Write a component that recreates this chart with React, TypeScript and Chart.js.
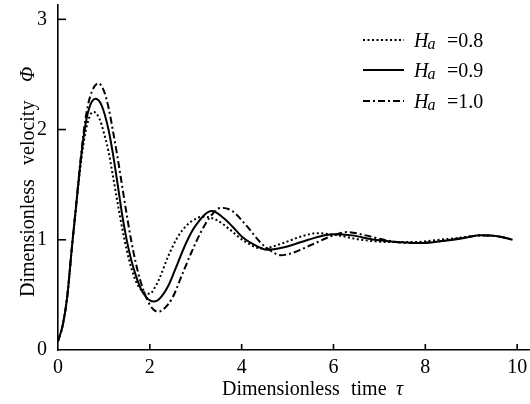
import React, { useEffect, useRef } from "react";
import { Chart, registerables } from "chart.js";

Chart.register(...registerables);

const FONT = "'Liberation Serif', 'Times New Roman', serif";

// Tick values
const xTicks = [0, 2, 4, 6, 8, 10];
const yTicks = [0, 1, 2, 3];

// Legend labels (Ha values)
const haLabels = ["0.8", "0.9", "1.0"];

// Ha = 0.8 (dotted)
const tau08 = [0, 0.1, 0.2, 0.3, 0.4, 0.5, 0.6, 0.7, 0.78, 0.9, 1.0, 1.1, 1.2, 1.3, 1.4, 1.5, 1.6, 1.7, 1.8, 1.9, 2.0, 2.1, 2.2, 2.4, 2.6, 2.8, 3.0, 3.15, 3.45, 3.75, 4.05, 4.45, 4.9, 5.3, 5.65, 6.1, 6.6, 7.2, 7.8, 8.3, 8.8, 9.2, 9.6, 9.9];
const phi08 = [0.08, 0.22, 0.48, 0.92, 1.32, 1.7, 1.98, 2.13, 2.16, 2.1, 1.97, 1.8, 1.57, 1.33, 1.1, 0.9, 0.74, 0.62, 0.55, 0.52, 0.51, 0.56, 0.64, 0.85, 1.02, 1.13, 1.19, 1.21, 1.18, 1.09, 0.99, 0.92, 0.97, 1.03, 1.06, 1.04, 1.0, 0.98, 0.98, 1.0, 1.02, 1.04, 1.03, 1.0];

// Ha = 0.9 (solid)
const tau09 = [0, 0.1, 0.2, 0.3, 0.4, 0.5, 0.6, 0.7, 0.82, 0.95, 1.1, 1.2, 1.3, 1.4, 1.5, 1.6, 1.7, 1.8, 1.9, 2.0, 2.1, 2.2, 2.4, 2.6, 2.8, 3.0, 3.35, 3.6, 3.8, 4.0, 4.25, 4.55, 4.9, 5.3, 5.7, 6.0, 6.4, 6.9, 7.4, 7.9, 8.4, 8.9, 9.2, 9.6, 9.9];
const phi09 = [0.08, 0.22, 0.48, 0.92, 1.33, 1.74, 2.05, 2.22, 2.28, 2.22, 2.0, 1.77, 1.5, 1.22, 0.99, 0.81, 0.67, 0.56, 0.49, 0.45, 0.44, 0.46, 0.58, 0.78, 0.98, 1.13, 1.26, 1.2, 1.12, 1.03, 0.96, 0.91, 0.93, 0.98, 1.03, 1.05, 1.04, 1.0, 0.98, 0.97, 0.99, 1.02, 1.04, 1.03, 1.0];

// Ha = 1.0 (dash-dot)
const tau10 = [0, 0.1, 0.2, 0.3, 0.4, 0.5, 0.6, 0.7, 0.88, 1.0, 1.1, 1.2, 1.3, 1.4, 1.5, 1.6, 1.7, 1.8, 1.9, 2.0, 2.1, 2.2, 2.3, 2.5, 2.7, 2.9, 3.1, 3.3, 3.55, 3.8, 4.1, 4.4, 4.6, 4.85, 5.1, 5.5, 6.0, 6.3, 6.7, 7.1, 7.6, 8.2, 8.7, 9.2, 9.6, 9.9];
const phi10 = [0.08, 0.22, 0.48, 0.92, 1.34, 1.76, 2.1, 2.3, 2.42, 2.35, 2.2, 1.98, 1.74, 1.48, 1.22, 0.98, 0.78, 0.62, 0.5, 0.41, 0.36, 0.35, 0.37, 0.48, 0.68, 0.88, 1.06, 1.2, 1.29, 1.26, 1.13, 0.98, 0.91, 0.86, 0.88, 0.95, 1.04, 1.07, 1.04, 1.0, 0.97, 0.98, 1.01, 1.04, 1.03, 1.0];

const DASHES = [[2, 2.5], [], [7, 3, 2, 3]];
const WIDTHS = [2, 2, 2];

const decor = {
  id: "decor",
  afterDraw(chart: any) {
    const { ctx, scales } = chart;
    const x = scales.x;
    const y = scales.y;
    ctx.save();
    ctx.strokeStyle = "#000";
    ctx.fillStyle = "#000";
    ctx.lineWidth = 1.6;
    ctx.setLineDash([]);
    // inward tick marks
    xTicks.forEach((v) => {
      if (v === 0) return;
      const px = x.getPixelForValue(v);
      ctx.beginPath();
      ctx.moveTo(px, y.bottom);
      ctx.lineTo(px, y.bottom - 6);
      ctx.stroke();
    });
    yTicks.forEach((v) => {
      if (v === 0) return;
      const py = y.getPixelForValue(v);
      ctx.beginPath();
      ctx.moveTo(x.left, py);
      ctx.lineTo(x.left + 8, py);
      ctx.stroke();
    });

    // legend
    const rows = [40, 70, 101];
    haLabels.forEach((lab, i) => {
      const ry = rows[i];
      ctx.lineWidth = WIDTHS[i];
      ctx.setLineDash(DASHES[i]);
      ctx.beginPath();
      ctx.moveTo(363, ry);
      ctx.lineTo(404, ry);
      ctx.stroke();
      ctx.setLineDash([]);
      ctx.textBaseline = "alphabetic";
      ctx.textAlign = "left";
      ctx.font = `italic 20px ${FONT}`;
      ctx.fillText("H", 414, ry + 7);
      const hw = ctx.measureText("H").width;
      ctx.font = `italic 16px ${FONT}`;
      ctx.fillText("a", 414 + hw - 1, ry + 9);
      ctx.font = `20px ${FONT}`;
      ctx.fillText("=" + lab, 447, ry + 7);
    });

    // x axis title
    ctx.font = `20px ${FONT}`;
    ctx.textBaseline = "alphabetic";
    ctx.textAlign = "left";
    ctx.fillText("Dimensionless", 222, 395);
    ctx.fillText("time", 351, 395);
    ctx.font = `italic 20px ${FONT}`;
    ctx.fillText("τ", 396, 395);

    // y axis title
    ctx.save();
    ctx.translate(34, 297);
    ctx.rotate(-Math.PI / 2);
    ctx.font = `20px ${FONT}`;
    ctx.fillText("Dimensionless", 0, 0);
    ctx.fillText("velocity", 297 - 165, 0);
    ctx.font = `italic 20px ${FONT}`;
    ctx.fillText("Φ", 297 - 82, 0);
    ctx.restore();

    ctx.restore();
  },
};

export default function App() {
  const ref = useRef<HTMLCanvasElement>(null);
  useEffect(() => {
    const canvas = ref.current;
    if (!canvas) return;
    const mk = (xs: number[], ys: number[]) => xs.map((v, i) => ({ x: v, y: ys[i] }));
    const series = [
      mk(tau08, phi08),
      mk(tau09, phi09),
      mk(tau10, phi10),
    ];
    const chart = new Chart(canvas, {
      type: "line",
      data: {
        datasets: series.map((d, i) => ({
          label: "Ha=" + haLabels[i],
          data: d,
          borderColor: "#000",
          borderWidth: WIDTHS[i],
          borderDash: DASHES[i],
          pointRadius: 0,
          fill: false,
          cubicInterpolationMode: "monotone" as const,
        })),
      },
      options: {
        animation: false,
        responsive: false,
        maintainAspectRatio: false,
        layout: { padding: { top: 5, right: 0, left: 0, bottom: 0 } },
        plugins: { legend: { display: false }, tooltip: { enabled: false } },
        scales: {
          x: {
            type: "linear",
            min: 0,
            max: 10.28,
            grid: { display: false, drawTicks: false },
            border: { display: true, color: "#000", width: 1.6 },
            ticks: { color: "#000", font: { family: FONT, size: 20 }, padding: 6, maxRotation: 0 },
            afterBuildTicks: (s: any) => {
              s.ticks = xTicks.map((v) => ({ value: v }));
            },
            afterFit: (s: any) => {
              s.height = 54;
              s.paddingLeft = 0;
              s.paddingRight = 0;
            },
          },
          y: {
            type: "linear",
            min: 0,
            max: 3.13,
            grid: { display: false, drawTicks: false },
            border: { display: true, color: "#000", width: 1.6 },
            ticks: { color: "#000", font: { family: FONT, size: 20 }, padding: 11 },
            afterBuildTicks: (s: any) => {
              s.ticks = yTicks.map((v) => ({ value: v }));
            },
            afterFit: (s: any) => {
              s.width = 58;
              s.paddingTop = 0;
              s.paddingBottom = 0;
            },
          },
        },
      },
      plugins: [decor],
    });
    return () => chart.destroy();
  }, []);
  return (
    <div style={{ position: "fixed", left: 0, top: 0, width: 530, height: 404, background: "#fff" }}>
      <canvas ref={ref} width={530} height={404} style={{ width: 530, height: 404, display: "block" }} />
    </div>
  );
}
